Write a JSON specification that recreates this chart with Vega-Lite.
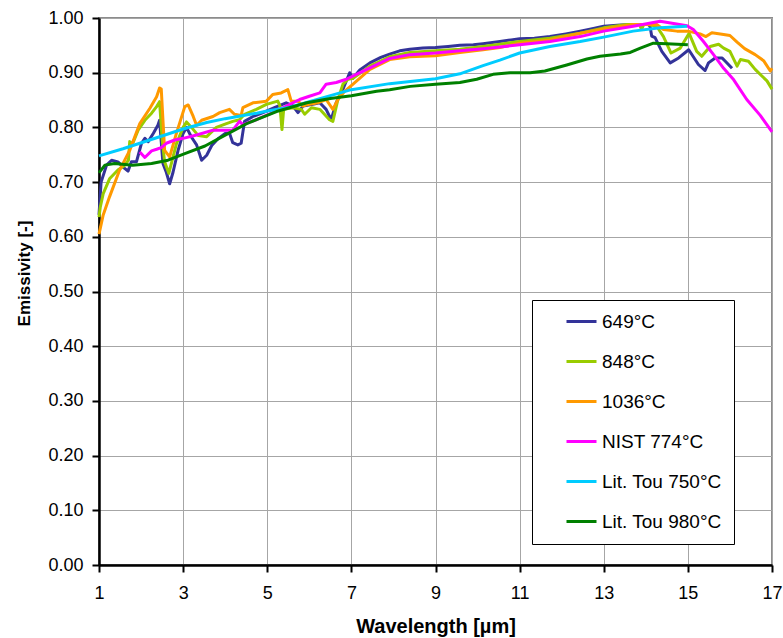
{
  "$schema": "https://vega.github.io/schema/vega-lite/v6.json",
  "width": 673,
  "height": 547,
  "autosize": {"type": "none"},
  "padding": {"left": 99, "top": 18, "right": 11, "bottom": 73},
  "background": "white",
  "config": {
    "font": "Liberation Sans",
    "view": {"stroke": "#8c8c8c", "strokeWidth": 2}
  },
  "data": {
    "values": [
      {"s":"649°C","x":1.0,"y":0.64},{"s":"649°C","x":1.05,"y":0.70},{"s":"649°C","x":1.18,"y":0.731},{"s":"649°C","x":1.3,"y":0.74},{"s":"649°C","x":1.45,"y":0.737},{"s":"649°C","x":1.61,"y":0.725},{"s":"649°C","x":1.69,"y":0.72},{"s":"649°C","x":1.77,"y":0.737},{"s":"649°C","x":1.89,"y":0.737},{"s":"649°C","x":2.01,"y":0.771},{"s":"649°C","x":2.09,"y":0.78},{"s":"649°C","x":2.17,"y":0.774},{"s":"649°C","x":2.29,"y":0.789},{"s":"649°C","x":2.4,"y":0.804},{"s":"649°C","x":2.44,"y":0.813},{"s":"649°C","x":2.52,"y":0.734},{"s":"649°C","x":2.6,"y":0.718},{"s":"649°C","x":2.68,"y":0.697},{"s":"649°C","x":2.76,"y":0.718},{"s":"649°C","x":2.88,"y":0.758},{"s":"649°C","x":3.0,"y":0.789},{"s":"649°C","x":3.08,"y":0.80},{"s":"649°C","x":3.2,"y":0.782},{"s":"649°C","x":3.32,"y":0.768},{"s":"649°C","x":3.44,"y":0.74},{"s":"649°C","x":3.56,"y":0.749},{"s":"649°C","x":3.68,"y":0.767},{"s":"649°C","x":3.84,"y":0.78},{"s":"649°C","x":4.0,"y":0.789},{"s":"649°C","x":4.1,"y":0.79},{"s":"649°C","x":4.18,"y":0.772},{"s":"649°C","x":4.3,"y":0.768},{"s":"649°C","x":4.38,"y":0.771},{"s":"649°C","x":4.46,"y":0.811},{"s":"649°C","x":4.66,"y":0.82},{"s":"649°C","x":4.9,"y":0.827},{"s":"649°C","x":5.17,"y":0.836},{"s":"649°C","x":5.45,"y":0.845},{"s":"649°C","x":5.6,"y":0.84},{"s":"649°C","x":5.73,"y":0.827},{"s":"649°C","x":5.85,"y":0.839},{"s":"649°C","x":6.05,"y":0.842},{"s":"649°C","x":6.25,"y":0.845},{"s":"649°C","x":6.4,"y":0.833},{"s":"649°C","x":6.52,"y":0.814},{"s":"649°C","x":6.64,"y":0.845},{"s":"649°C","x":6.8,"y":0.87},{"s":"649°C","x":6.96,"y":0.9},{"s":"649°C","x":7.04,"y":0.89},{"s":"649°C","x":7.2,"y":0.905},{"s":"649°C","x":7.44,"y":0.918},{"s":"649°C","x":7.7,"y":0.928},{"s":"649°C","x":7.91,"y":0.934},{"s":"649°C","x":8.15,"y":0.94},{"s":"649°C","x":8.39,"y":0.943},{"s":"649°C","x":8.7,"y":0.945},{"s":"649°C","x":9.0,"y":0.946},{"s":"649°C","x":9.3,"y":0.948},{"s":"649°C","x":9.58,"y":0.95},{"s":"649°C","x":9.9,"y":0.951},{"s":"649°C","x":10.13,"y":0.953},{"s":"649°C","x":10.53,"y":0.957},{"s":"649°C","x":10.8,"y":0.96},{"s":"649°C","x":11.0,"y":0.962},{"s":"649°C","x":11.35,"y":0.963},{"s":"649°C","x":11.72,"y":0.966},{"s":"649°C","x":12.1,"y":0.971},{"s":"649°C","x":12.44,"y":0.976},{"s":"649°C","x":12.7,"y":0.98},{"s":"649°C","x":13.0,"y":0.985},{"s":"649°C","x":13.4,"y":0.987},{"s":"649°C","x":13.7,"y":0.988},{"s":"649°C","x":14.06,"y":0.988},{"s":"649°C","x":14.1,"y":0.985},{"s":"649°C","x":14.14,"y":0.967},{"s":"649°C","x":14.22,"y":0.964},{"s":"649°C","x":14.38,"y":0.939},{"s":"649°C","x":14.58,"y":0.918},{"s":"649°C","x":14.78,"y":0.927},{"s":"649°C","x":15.02,"y":0.942},{"s":"649°C","x":15.25,"y":0.915},{"s":"649°C","x":15.41,"y":0.904},{"s":"649°C","x":15.49,"y":0.918},{"s":"649°C","x":15.65,"y":0.927},{"s":"649°C","x":15.81,"y":0.927},{"s":"649°C","x":15.89,"y":0.921},{"s":"649°C","x":16.05,"y":0.908},

      {"s":"848°C","x":1.0,"y":0.636},{"s":"848°C","x":1.03,"y":0.654},{"s":"848°C","x":1.1,"y":0.679},{"s":"848°C","x":1.25,"y":0.706},{"s":"848°C","x":1.45,"y":0.722},{"s":"848°C","x":1.6,"y":0.73},{"s":"848°C","x":1.7,"y":0.74},{"s":"848°C","x":1.73,"y":0.774},{"s":"848°C","x":1.8,"y":0.77},{"s":"848°C","x":1.93,"y":0.795},{"s":"848°C","x":2.09,"y":0.813},{"s":"848°C","x":2.25,"y":0.826},{"s":"848°C","x":2.37,"y":0.838},{"s":"848°C","x":2.44,"y":0.847},{"s":"848°C","x":2.5,"y":0.78},{"s":"848°C","x":2.56,"y":0.737},{"s":"848°C","x":2.66,"y":0.716},{"s":"848°C","x":2.84,"y":0.77},{"s":"848°C","x":3.0,"y":0.80},{"s":"848°C","x":3.08,"y":0.81},{"s":"848°C","x":3.2,"y":0.80},{"s":"848°C","x":3.36,"y":0.785},{"s":"848°C","x":3.56,"y":0.783},{"s":"848°C","x":3.79,"y":0.8},{"s":"848°C","x":4.03,"y":0.807},{"s":"848°C","x":4.18,"y":0.811},{"s":"848°C","x":4.34,"y":0.814},{"s":"848°C","x":4.46,"y":0.824},{"s":"848°C","x":4.74,"y":0.833},{"s":"848°C","x":4.98,"y":0.842},{"s":"848°C","x":5.25,"y":0.848},{"s":"848°C","x":5.3,"y":0.84},{"s":"848°C","x":5.35,"y":0.796},{"s":"848°C","x":5.39,"y":0.833},{"s":"848°C","x":5.61,"y":0.836},{"s":"848°C","x":5.81,"y":0.833},{"s":"848°C","x":5.89,"y":0.824},{"s":"848°C","x":6.05,"y":0.836},{"s":"848°C","x":6.25,"y":0.833},{"s":"848°C","x":6.48,"y":0.814},{"s":"848°C","x":6.56,"y":0.811},{"s":"848°C","x":6.68,"y":0.851},{"s":"848°C","x":6.8,"y":0.879},{"s":"848°C","x":6.92,"y":0.888},{"s":"848°C","x":7.04,"y":0.89},{"s":"848°C","x":7.44,"y":0.912},{"s":"848°C","x":7.91,"y":0.929},{"s":"848°C","x":8.39,"y":0.937},{"s":"848°C","x":9.0,"y":0.94},{"s":"848°C","x":9.58,"y":0.943},{"s":"848°C","x":10.13,"y":0.948},{"s":"848°C","x":10.53,"y":0.952},{"s":"848°C","x":11.0,"y":0.957},{"s":"848°C","x":11.72,"y":0.963},{"s":"848°C","x":12.44,"y":0.972},{"s":"848°C","x":13.0,"y":0.982},{"s":"848°C","x":13.55,"y":0.988},{"s":"848°C","x":13.85,"y":0.988},{"s":"848°C","x":13.9,"y":0.979},{"s":"848°C","x":13.95,"y":0.988},{"s":"848°C","x":14.06,"y":0.988},{"s":"848°C","x":14.26,"y":0.985},{"s":"848°C","x":14.42,"y":0.966},{"s":"848°C","x":14.6,"y":0.936},{"s":"848°C","x":14.82,"y":0.945},{"s":"848°C","x":15.03,"y":0.972},{"s":"848°C","x":15.21,"y":0.939},{"s":"848°C","x":15.33,"y":0.93},{"s":"848°C","x":15.53,"y":0.948},{"s":"848°C","x":15.73,"y":0.952},{"s":"848°C","x":15.85,"y":0.945},{"s":"848°C","x":16.0,"y":0.939},{"s":"848°C","x":16.17,"y":0.912},{"s":"848°C","x":16.25,"y":0.924},{"s":"848°C","x":16.44,"y":0.921},{"s":"848°C","x":16.6,"y":0.906},{"s":"848°C","x":16.76,"y":0.894},{"s":"848°C","x":16.88,"y":0.885},{"s":"848°C","x":17.0,"y":0.87},

      {"s":"1036°C","x":1.0,"y":0.605},{"s":"1036°C","x":1.1,"y":0.64},{"s":"1036°C","x":1.25,"y":0.673},{"s":"1036°C","x":1.49,"y":0.722},{"s":"1036°C","x":1.73,"y":0.758},{"s":"1036°C","x":1.97,"y":0.807},{"s":"1036°C","x":2.21,"y":0.835},{"s":"1036°C","x":2.37,"y":0.856},{"s":"1036°C","x":2.44,"y":0.872},{"s":"1036°C","x":2.48,"y":0.87},{"s":"1036°C","x":2.56,"y":0.758},{"s":"1036°C","x":2.68,"y":0.746},{"s":"1036°C","x":2.84,"y":0.789},{"s":"1036°C","x":3.04,"y":0.838},{"s":"1036°C","x":3.12,"y":0.841},{"s":"1036°C","x":3.24,"y":0.82},{"s":"1036°C","x":3.32,"y":0.804},{"s":"1036°C","x":3.44,"y":0.813},{"s":"1036°C","x":3.71,"y":0.82},{"s":"1036°C","x":3.87,"y":0.827},{"s":"1036°C","x":4.1,"y":0.833},{"s":"1036°C","x":4.22,"y":0.824},{"s":"1036°C","x":4.38,"y":0.822},{"s":"1036°C","x":4.42,"y":0.836},{"s":"1036°C","x":4.66,"y":0.845},{"s":"1036°C","x":4.98,"y":0.848},{"s":"1036°C","x":5.13,"y":0.86},{"s":"1036°C","x":5.33,"y":0.863},{"s":"1036°C","x":5.49,"y":0.869},{"s":"1036°C","x":5.57,"y":0.848},{"s":"1036°C","x":5.73,"y":0.848},{"s":"1036°C","x":5.85,"y":0.839},{"s":"1036°C","x":5.97,"y":0.842},{"s":"1036°C","x":6.2,"y":0.845},{"s":"1036°C","x":6.4,"y":0.851},{"s":"1036°C","x":6.56,"y":0.833},{"s":"1036°C","x":6.68,"y":0.851},{"s":"1036°C","x":6.84,"y":0.866},{"s":"1036°C","x":7.04,"y":0.879},{"s":"1036°C","x":7.44,"y":0.906},{"s":"1036°C","x":7.91,"y":0.924},{"s":"1036°C","x":8.39,"y":0.929},{"s":"1036°C","x":9.0,"y":0.931},{"s":"1036°C","x":9.58,"y":0.937},{"s":"1036°C","x":10.13,"y":0.942},{"s":"1036°C","x":10.53,"y":0.946},{"s":"1036°C","x":11.0,"y":0.954},{"s":"1036°C","x":11.72,"y":0.96},{"s":"1036°C","x":12.44,"y":0.972},{"s":"1036°C","x":13.0,"y":0.98},{"s":"1036°C","x":13.7,"y":0.988},{"s":"1036°C","x":14.26,"y":0.988},{"s":"1036°C","x":14.42,"y":0.979},{"s":"1036°C","x":14.74,"y":0.976},{"s":"1036°C","x":15.0,"y":0.976},{"s":"1036°C","x":15.29,"y":0.971},{"s":"1036°C","x":15.43,"y":0.966},{"s":"1036°C","x":15.57,"y":0.973},{"s":"1036°C","x":15.85,"y":0.97},{"s":"1036°C","x":16.0,"y":0.968},{"s":"1036°C","x":16.17,"y":0.956},{"s":"1036°C","x":16.35,"y":0.944},{"s":"1036°C","x":16.6,"y":0.933},{"s":"1036°C","x":16.8,"y":0.922},{"s":"1036°C","x":16.96,"y":0.903},{"s":"1036°C","x":17.0,"y":0.908},

      {"s":"NIST 774°C","x":1.97,"y":0.755},{"s":"NIST 774°C","x":2.09,"y":0.745},{"s":"NIST 774°C","x":2.25,"y":0.757},{"s":"NIST 774°C","x":2.37,"y":0.76},{"s":"NIST 774°C","x":2.48,"y":0.763},{"s":"NIST 774°C","x":2.6,"y":0.771},{"s":"NIST 774°C","x":2.8,"y":0.777},{"s":"NIST 774°C","x":3.0,"y":0.78},{"s":"NIST 774°C","x":3.32,"y":0.786},{"s":"NIST 774°C","x":3.71,"y":0.795},{"s":"NIST 774°C","x":3.9,"y":0.795},{"s":"NIST 774°C","x":4.18,"y":0.795},{"s":"NIST 774°C","x":4.34,"y":0.811},{"s":"NIST 774°C","x":4.42,"y":0.805},{"s":"NIST 774°C","x":4.74,"y":0.814},{"s":"NIST 774°C","x":5.13,"y":0.827},{"s":"NIST 774°C","x":5.45,"y":0.839},{"s":"NIST 774°C","x":5.77,"y":0.851},{"s":"NIST 774°C","x":6.0,"y":0.857},{"s":"NIST 774°C","x":6.25,"y":0.863},{"s":"NIST 774°C","x":6.4,"y":0.879},{"s":"NIST 774°C","x":6.64,"y":0.882},{"s":"NIST 774°C","x":6.88,"y":0.888},{"s":"NIST 774°C","x":7.12,"y":0.897},{"s":"NIST 774°C","x":7.44,"y":0.909},{"s":"NIST 774°C","x":7.91,"y":0.926},{"s":"NIST 774°C","x":8.39,"y":0.933},{"s":"NIST 774°C","x":9.0,"y":0.936},{"s":"NIST 774°C","x":9.58,"y":0.94},{"s":"NIST 774°C","x":10.13,"y":0.944},{"s":"NIST 774°C","x":10.53,"y":0.947},{"s":"NIST 774°C","x":11.0,"y":0.951},{"s":"NIST 774°C","x":11.72,"y":0.957},{"s":"NIST 774°C","x":12.44,"y":0.966},{"s":"NIST 774°C","x":13.0,"y":0.976},{"s":"NIST 774°C","x":13.7,"y":0.985},{"s":"NIST 774°C","x":14.34,"y":0.994},{"s":"NIST 774°C","x":14.98,"y":0.986},{"s":"NIST 774°C","x":15.13,"y":0.979},{"s":"NIST 774°C","x":15.37,"y":0.957},{"s":"NIST 774°C","x":15.61,"y":0.933},{"s":"NIST 774°C","x":15.85,"y":0.908},{"s":"NIST 774°C","x":16.09,"y":0.887},{"s":"NIST 774°C","x":16.4,"y":0.851},{"s":"NIST 774°C","x":16.72,"y":0.822},{"s":"NIST 774°C","x":17.0,"y":0.792},

      {"s":"Lit. Tou 750°C","x":1.0,"y":0.748},{"s":"Lit. Tou 750°C","x":1.57,"y":0.761},{"s":"Lit. Tou 750°C","x":2.37,"y":0.781},{"s":"Lit. Tou 750°C","x":3.0,"y":0.797},{"s":"Lit. Tou 750°C","x":3.56,"y":0.809},{"s":"Lit. Tou 750°C","x":4.0,"y":0.816},{"s":"Lit. Tou 750°C","x":4.75,"y":0.826},{"s":"Lit. Tou 750°C","x":5.0,"y":0.830},{"s":"Lit. Tou 750°C","x":5.54,"y":0.837},{"s":"Lit. Tou 750°C","x":6.0,"y":0.847},{"s":"Lit. Tou 750°C","x":6.5,"y":0.858},{"s":"Lit. Tou 750°C","x":7.0,"y":0.869},{"s":"Lit. Tou 750°C","x":7.91,"y":0.88},{"s":"Lit. Tou 750°C","x":8.4,"y":0.884},{"s":"Lit. Tou 750°C","x":9.0,"y":0.889},{"s":"Lit. Tou 750°C","x":9.58,"y":0.898},{"s":"Lit. Tou 750°C","x":10.13,"y":0.913},{"s":"Lit. Tou 750°C","x":10.53,"y":0.923},{"s":"Lit. Tou 750°C","x":11.0,"y":0.936},{"s":"Lit. Tou 750°C","x":11.72,"y":0.948},{"s":"Lit. Tou 750°C","x":12.44,"y":0.957},{"s":"Lit. Tou 750°C","x":13.0,"y":0.965},{"s":"Lit. Tou 750°C","x":13.7,"y":0.976},{"s":"Lit. Tou 750°C","x":14.34,"y":0.982},{"s":"Lit. Tou 750°C","x":14.98,"y":0.985},

      {"s":"Lit. Tou 980°C","x":1.0,"y":0.717},{"s":"Lit. Tou 980°C","x":1.14,"y":0.731},{"s":"Lit. Tou 980°C","x":1.37,"y":0.734},{"s":"Lit. Tou 980°C","x":1.8,"y":0.731},{"s":"Lit. Tou 980°C","x":2.25,"y":0.734},{"s":"Lit. Tou 980°C","x":2.64,"y":0.74},{"s":"Lit. Tou 980°C","x":3.04,"y":0.752},{"s":"Lit. Tou 980°C","x":3.52,"y":0.766},{"s":"Lit. Tou 980°C","x":4.0,"y":0.786},{"s":"Lit. Tou 980°C","x":4.51,"y":0.807},{"s":"Lit. Tou 980°C","x":5.22,"y":0.829},{"s":"Lit. Tou 980°C","x":5.94,"y":0.845},{"s":"Lit. Tou 980°C","x":6.5,"y":0.853},{"s":"Lit. Tou 980°C","x":7.0,"y":0.858},{"s":"Lit. Tou 980°C","x":7.6,"y":0.866},{"s":"Lit. Tou 980°C","x":7.91,"y":0.869},{"s":"Lit. Tou 980°C","x":8.4,"y":0.875},{"s":"Lit. Tou 980°C","x":9.0,"y":0.879},{"s":"Lit. Tou 980°C","x":9.58,"y":0.882},{"s":"Lit. Tou 980°C","x":9.98,"y":0.888},{"s":"Lit. Tou 980°C","x":10.37,"y":0.897},{"s":"Lit. Tou 980°C","x":10.77,"y":0.9},{"s":"Lit. Tou 980°C","x":11.25,"y":0.9},{"s":"Lit. Tou 980°C","x":11.6,"y":0.903},{"s":"Lit. Tou 980°C","x":12.12,"y":0.914},{"s":"Lit. Tou 980°C","x":12.6,"y":0.925},{"s":"Lit. Tou 980°C","x":12.91,"y":0.93},{"s":"Lit. Tou 980°C","x":13.4,"y":0.934},{"s":"Lit. Tou 980°C","x":13.63,"y":0.937},{"s":"Lit. Tou 980°C","x":13.87,"y":0.945},{"s":"Lit. Tou 980°C","x":14.18,"y":0.954},{"s":"Lit. Tou 980°C","x":14.5,"y":0.953},{"s":"Lit. Tou 980°C","x":15.0,"y":0.951}
    ]
  },
  "mark": {"type": "line", "strokeWidth": 3, "strokeJoin": "round"},
  "encoding": {
    "x": {
      "field": "x", "type": "quantitative",
      "scale": {"domain": [1, 17], "nice": false, "zero": false},
      "axis": {
        "values": [1, 3, 5, 7, 9, 11, 13, 15, 17],
        "title": "Wavelength [µm]",
        "titleFontSize": 20, "titleFontWeight": "bold", "titleColor": "black",
        "titleBaseline": "alphabetic", "titleY": 67,
        "labelFontSize": 18, "labelColor": "black", "labelBaseline": "alphabetic",
        "labelPadding": 26, "labelFlush": false, "labelOverlap": false,
        "tickSize": 7, "tickColor": "black", "tickWidth": 2,
        "domainColor": "black", "domainWidth": 2.5,
        "gridColor": "#a6a6a6", "gridWidth": 1
      }
    },
    "y": {
      "field": "y", "type": "quantitative",
      "scale": {"domain": [0, 1], "nice": false},
      "axis": {
        "values": [0, 0.1, 0.2, 0.3, 0.4, 0.5, 0.6, 0.7, 0.8, 0.9, 1.0],
        "format": ".2f",
        "title": "Emissivity [-]",
        "titleFontSize": 17, "titleFontWeight": "bold", "titleColor": "black",
        "titleBaseline": "alphabetic", "titleAngle": 270, "titleX": -70, "titleY": 255,
        "labelFontSize": 18, "labelColor": "black", "labelBaseline": "middle",
        "labelPadding": 9, "labelFlush": false, "labelOverlap": false,
        "tickSize": 7, "tickColor": "black", "tickWidth": 2,
        "domainColor": "black", "domainWidth": 2.5,
        "gridColor": "#a6a6a6", "gridWidth": 1
      }
    },
    "color": {
      "field": "s", "type": "nominal",
      "scale": {
        "domain": ["649°C", "848°C", "1036°C", "NIST 774°C", "Lit. Tou 750°C", "Lit. Tou 980°C"],
        "range": ["#333399", "#99CC00", "#FF9900", "#FF00FF", "#00CCFF", "#008000"]
      },
      "legend": {
        "orient": "none", "legendX": 433, "legendY": 282,
        "title": null,
        "strokeColor": "black", "fillColor": "white", "padding": 12,
        "symbolType": "stroke", "symbolSize": 900, "symbolStrokeWidth": 3,
        "symbolOffset": 21, "labelOffset": 4,
        "labelFontSize": 19, "labelColor": "black", "labelLimit": 300,
        "rowPadding": 20, "clipHeight": 19
      }
    }
  }
}
